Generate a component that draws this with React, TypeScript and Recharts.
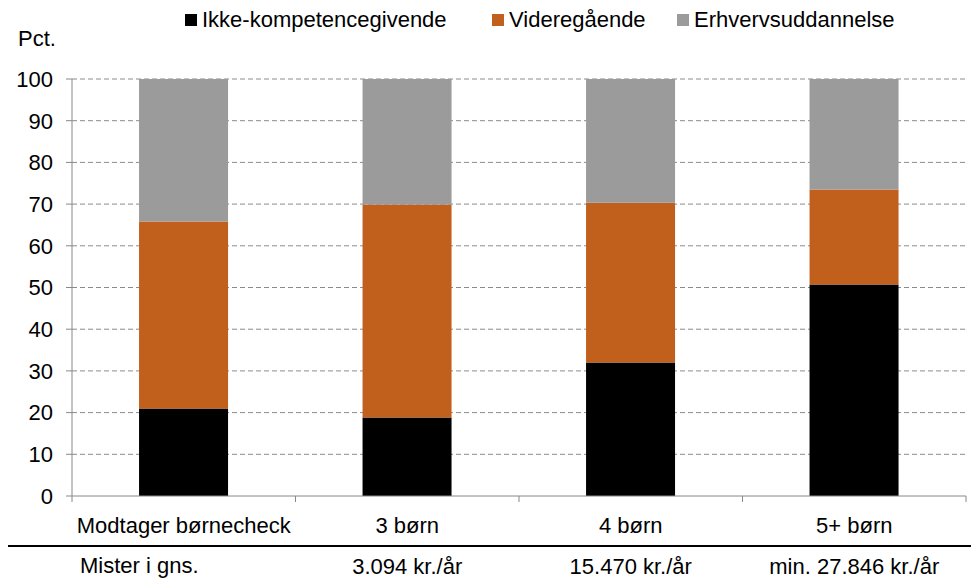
import React from "react";
import { BarChart, Bar, XAxis, YAxis, CartesianGrid } from "recharts";

const categories = ["Modtager børnecheck", "3 børn", "4 børn", "5+ børn"];
const ikkeKompetencegivende = [21, 18.8, 32, 50.7];
const videregaaende = [44.8, 51.1, 38.3, 22.8];
const erhvervsuddannelse = [34.2, 30.1, 29.7, 26.5];
const lossLabels = ["", "3.094 kr./år", "15.470 kr./år", "min. 27.846 kr./år"];
const yTicks = [0, 10, 20, 30, 40, 50, 60, 70, 80, 90, 100];
const seriesNames = ["Ikke-kompetencegivende", "Videregående", "Erhvervsuddannelse"];
const seriesColors = ["#000000", "#C0601C", "#9B9B9B"];
const rowLabel = "Mister i gns.";
const unitLabel = "Pct.";

const data = categories.map((c, i) => ({
  name: c,
  ikke: ikkeKompetencegivende[i],
  videre: videregaaende[i],
  erhverv: erhvervsuddannelse[i],
  loss: lossLabels[i],
}));

const W = 971;
const H = 578;
const LEFT = 72;
const RIGHT_MARGIN = 5;
const TOP = 79;
const XAXIS_H = 82;
const FONT = "'Liberation Sans', Arial, sans-serif";
const FS = 22;
const band = (W - LEFT - RIGHT_MARGIN) / categories.length;

const XTick = (props: any) => {
  const { x, y, payload, index } = props;
  const i = index ?? payload.index;
  const left = x - band / 2;
  const right = x + band / 2;
  return (
    <g>
      <line x1={left} y1={y - 8} x2={left} y2={y - 2} stroke="#888" strokeWidth={1} />
      {i === categories.length - 1 && (
        <line x1={right} y1={y - 8} x2={right} y2={y - 2} stroke="#888" strokeWidth={1} />
      )}
      <text x={x} y={y + 29} textAnchor="middle" fontFamily={FONT} fontSize={FS} fill="#000">
        {payload.value}
      </text>
      <text x={x} y={y + 70} textAnchor="middle" fontFamily={FONT} fontSize={FS} fill="#000">
        {lossLabels[i]}
      </text>
    </g>
  );
};

export default function App() {
  return (
    <div style={{ position: "absolute", left: 0, top: 0, width: W, height: H, background: "#fff" }}>
      <BarChart
        width={W}
        height={H}
        data={data}
        margin={{ top: TOP, right: RIGHT_MARGIN, left: 0, bottom: 0 }}
        barCategoryGap="30%"
      >
        <CartesianGrid
          vertical={false}
          stroke="#8a8a8a"
          strokeDasharray="5 3"
          horizontalValues={yTicks.filter((t) => t > 0)}
        />
        <XAxis
          dataKey="name"
          height={XAXIS_H}
          axisLine={{ stroke: "#888" }}
          tickLine={false}
          tick={<XTick />}
          interval={0}
        />
        <YAxis
          width={LEFT}
          domain={[0, 100]}
          ticks={yTicks}
          interval={0}
          axisLine={{ stroke: "#888" }}
          tickLine={{ stroke: "#888" }}
          tickSize={6}
          tickMargin={13}
          tick={{ fontFamily: FONT, fontSize: FS, fill: "#000" }}
        />
        <Bar dataKey="ikke" stackId="a" fill={seriesColors[0]} isAnimationActive={false} />
        <Bar dataKey="videre" stackId="a" fill={seriesColors[1]} isAnimationActive={false} />
        <Bar dataKey="erhverv" stackId="a" fill={seriesColors[2]} isAnimationActive={false} />
      </BarChart>
      <div
        style={{
          position: "absolute",
          left: 0,
          top: 8,
          width: W,
          fontFamily: FONT,
          fontSize: FS,
          lineHeight: "24px",
        }}
      >
        {seriesNames.map((n, i) => (
          <div
            key={n}
            style={{
              position: "absolute",
              left: [185, 492, 677][i],
              display: "flex",
              alignItems: "center",
              whiteSpace: "nowrap",
            }}
          >
            <span style={{ display: "inline-block", width: 12, height: 12, background: seriesColors[i], marginRight: 5 }} />
            <span>{n}</span>
          </div>
        ))}
      </div>
      <div style={{ position: "absolute", left: 18, top: 26, fontFamily: FONT, fontSize: FS }}>{unitLabel}</div>
      <div style={{ position: "absolute", left: 8, top: 545, width: W - 8, height: 2, background: "#000" }} />
      <div style={{ position: "absolute", left: 80, top: 553, fontFamily: FONT, fontSize: FS }}>{rowLabel}</div>
    </div>
  );
}
